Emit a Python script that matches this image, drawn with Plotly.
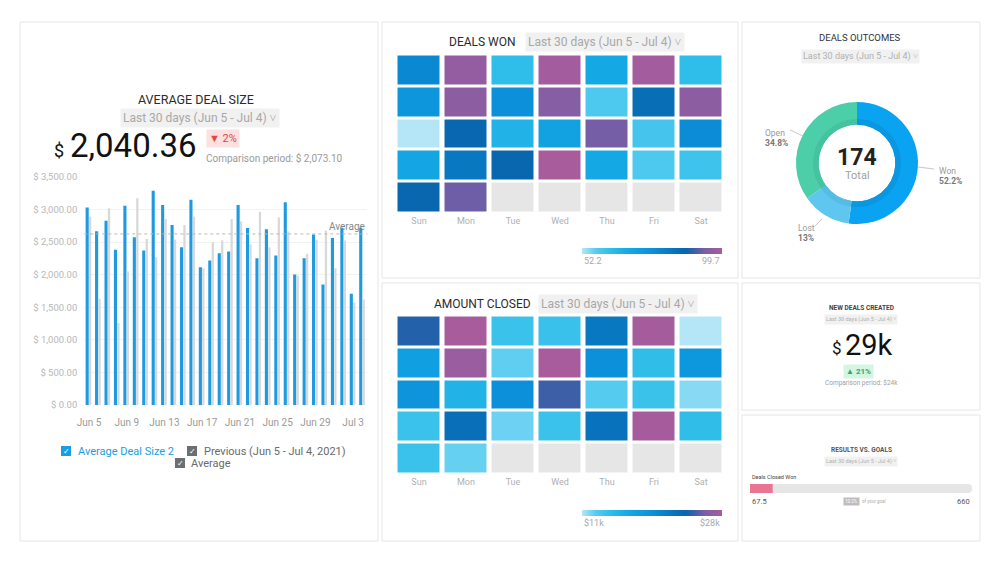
import plotly.graph_objects as go

W, H = 1000, 563
def px(x): return x / W
def py(y): return 1 - y / H

FONT = "Roboto"

# ---------------- data ----------------
days = ["Jun 5", "Jun 6", "Jun 7", "Jun 8", "Jun 9", "Jun 10", "Jun 11", "Jun 12", "Jun 13", "Jun 14",
        "Jun 15", "Jun 16", "Jun 17", "Jun 18", "Jun 19", "Jun 20", "Jun 21", "Jun 22", "Jun 23", "Jun 24",
        "Jun 25", "Jun 26", "Jun 27", "Jun 28", "Jun 29", "Jun 30", "Jul 1", "Jul 2", "Jul 3", "Jul 4"]
day_ticks = ["Jun 5", "Jun 9", "Jun 13", "Jun 17", "Jun 21", "Jun 25", "Jun 29", "Jul 3"]
avg_deal_size = [3030, 2667, 2830, 2382, 3060, 2575, 2370, 3290, 3070, 2765,
                 2422, 3152, 2116, 2218, 2330, 2356, 3070, 2718, 2254, 2698,
                 2295, 3111, 2004, 2254, 2616, 1851, 2565, 2720, 1709, 2720]
previous = [2892, 1632, 3019, 1260, 2050, 3172, 2550, 2270, 2856, 2540,
            2765, 2892, 2100, 2500, 2525, 2856, 2820, 2463, 2968, 2422,
            2881, 2662, 1989, 2321, 2535, 2677, 2101, 2525, 1575, 1620]
average_value = 2626
y_ticks = [0, 500, 1000, 1500, 2000, 2500, 3000, 3500]
y_tick_text = ["$ 0.00", "$ 500.00", "$ 1,000.00", "$ 1,500.00", "$ 2,000.00",
               "$ 2,500.00", "$ 3,000.00", "$ 3,500.00"]

weekdays = ["Sun", "Mon", "Tue", "Wed", "Thu", "Fri", "Sat"]
deals_won = [
    [78, 97, 62, 99, 68, 99, 62],
    [74, 96, 76, 95, 58, 85, 96],
    [52.2, 87, 65, 70, 93.5, 59, 77],
    [69, 82, 87, 99.7, 68, 58, 60],
    [87, 93, None, None, None, None, None],
]
amount_closed = [
    [24.1, 28, 13.9, 14, 21.7, 27.8, 11],
    [17.8, 27.3, 12.5, 28, 19.5, 14.4, 18.7],
    [19, 15.6, 19.5, 24.6, 12.7, 13.9, 11.8],
    [13.9, 22.6, 12.3, 13.9, 22.2, 27.9, 14.4],
    [13.9, 12.4, None, None, None, None, None],
]
won_range = [52.2, 99.7]
amount_range = [11, 28]

outcome_labels = ["Won", "Lost", "Open"]
outcome_pct = [52.2, 13, 34.8]
outcome_total = 174

goal_result = 67.5
goal_target = 660

heat_scale = [
    [0.0, "#b5e6f8"], [0.1, "#55cbf0"], [0.2, "#30bee9"], [0.33, "#14a9e5"],
    [0.5, "#0b90d9"], [0.65, "#0874bd"], [0.74, "#0866ae"], [0.8, "#3d5fa8"],
    [0.88, "#7e5ea6"], [1.0, "#a85c9c"],
]

fig = go.Figure()

# ---------------- panels ----------------
panels = [(20, 22, 378, 541), (382, 22, 738, 278), (382, 283, 738, 541),
          (742, 22, 980, 278), (742, 283, 980, 410), (742, 415, 980, 541)]
shapes = []
for x0, y0, x1, y1 in panels:
    shapes.append(dict(type="rect", xref="paper", yref="paper", x0=px(x0), x1=px(x1),
                       y0=py(y1), y1=py(y0), line=dict(color="#e6e6e6", width=1),
                       fillcolor="white", layer="below"))

# ---------------- average deal size bars ----------------
fig.add_trace(go.Bar(x=days, y=avg_deal_size, name="Average Deal Size 2",
                     marker=dict(color="#1e9be0", line=dict(width=0)),
                     width=0.33, offset=-0.36, xaxis="x", yaxis="y", hoverinfo="skip"))
fig.add_trace(go.Bar(x=days, y=previous, name="Previous (Jun 5 - Jul 4, 2021)",
                     marker=dict(color="#d8d8d8", line=dict(width=0)),
                     width=0.24, offset=0.0, xaxis="x", yaxis="y", hoverinfo="skip"))
shapes.append(dict(type="line", xref="x domain", yref="y", x0=0, x1=1,
                   y0=average_value, y1=average_value,
                   line=dict(color="#b8b8b8", width=1, dash="dot")))

# ---------------- heatmaps ----------------
def grey_mask(z):
    return [[1 if v is None else None for v in row] for row in z]

for z, xa, ya in [(deals_won, "x2", "y2"), (amount_closed, "x3", "y3")]:
    fig.add_trace(go.Heatmap(z=grey_mask(z), x=weekdays, xaxis=xa, yaxis=ya,
                             colorscale=[[0, "#e6e6e6"], [1, "#e6e6e6"]], showscale=False,
                             xgap=5, ygap=3, hoverinfo="skip"))

def cbar(ytop):
    return dict(orientation="h", x=px(652), xanchor="center", y=py(ytop), yanchor="top",
                len=0.14, lenmode="fraction", thickness=6, outlinewidth=0, xpad=0, ypad=0,
                showticklabels=False, ticks="")

fig.add_trace(go.Heatmap(z=deals_won, x=weekdays, xaxis="x2", yaxis="y2",
                         zmin=won_range[0], zmax=won_range[1], colorscale=heat_scale,
                         xgap=5, ygap=3, hoverinfo="skip", colorbar=cbar(248)))
fig.add_trace(go.Heatmap(z=amount_closed, x=weekdays, xaxis="x3", yaxis="y3",
                         zmin=amount_range[0], zmax=amount_range[1], colorscale=heat_scale,
                         xgap=5, ygap=3, hoverinfo="skip", colorbar=cbar(510)))

# ---------------- donut ----------------
cx, cy, r = 857, 163, 61
fig.add_trace(go.Pie(labels=outcome_labels, values=outcome_pct, sort=False, direction="clockwise",
                     rotation=0, hole=0.63, textinfo="none", hoverinfo="skip", showlegend=False,
                     marker=dict(colors=["#0aa3f2", "#5ec6ef", "#4ccfa9"], line=dict(width=0)),
                     domain=dict(x=[px(cx - r), px(cx + r)], y=[py(cy + r), py(cy - r)])))
r2 = 44
fig.add_trace(go.Pie(labels=outcome_labels, values=outcome_pct, sort=False, direction="clockwise",
                     rotation=0, hole=0.87, textinfo="none", hoverinfo="skip", showlegend=False,
                     marker=dict(colors=["#0997e2", "#56bce4", "#45c29f"], line=dict(width=0)),
                     domain=dict(x=[px(cx - r2), px(cx + r2)], y=[py(cy + r2), py(cy - r2)])))

# ---------------- progress bar ----------------
fig.add_trace(go.Bar(x=[goal_target], y=["goal"], orientation="h", xaxis="x4", yaxis="y4",
                     marker=dict(color="#e6e6e6", cornerradius=4, line=dict(width=0)),
                     width=1, hoverinfo="skip", showlegend=False))
fig.add_trace(go.Bar(x=[goal_result], y=["goal"], orientation="h", xaxis="x4", yaxis="y4",
                     marker=dict(color="#ea7592", cornerradius=4, line=dict(width=0)),
                     width=1, hoverinfo="skip", showlegend=False))

# ---------------- annotations ----------------
ann = []
def T(x, y, text, size=10, color="#333", xanchor="center", yanchor="middle", bg=None, pad=1, **kw):
    d = dict(xref="paper", yref="paper", x=px(x), y=py(y), text=text, showarrow=False,
             font=dict(family=FONT, size=size, color=color), xanchor=xanchor, yanchor=yanchor)
    if bg:
        d["bgcolor"] = bg
        d["borderpad"] = pad
    d.update(kw)
    ann.append(d)

DD = "Last 30 days (Jun 5 - Jul 4) ˅"

# left panel header
T(196, 99, "AVERAGE DEAL SIZE", 12.5, "#2b2b2b")
T(200, 118, DD, 12, "#a8a8a8", bg="#f1f1f1", pad=2)
T(59, 150, "$", 18, "#111")
T(68, 146, "2,040.36", 33, "#111", xanchor="left")
T(223, 139, "▼ 2%", 11, "#e04848", bg="#fde0e0", pad=2)
T(204, 158, "Comparison period: $ 2,073.10", 10, "#9a9a9a", xanchor="left")
ann.append(dict(xref="x domain", yref="y", x=1, y=average_value, text="Average", showarrow=False,
                xanchor="right", yanchor="bottom", font=dict(family=FONT, size=10, color="#888")))

# legend
def checkbox(x, y, color):
    shapes.append(dict(type="rect", xref="paper", yref="paper", x0=px(x - 5), x1=px(x + 5),
                       y0=py(y + 5), y1=py(y - 5), fillcolor=color, line=dict(width=0)))
    T(x, y, "✓", 8, "white")
checkbox(66, 451, "#1a9ee0")
T(76, 451, "Average Deal Size 2", 11, "#1a9ee0", xanchor="left")
checkbox(192, 451, "#6e6e6e")
T(202, 451, "Previous (Jun 5 - Jul 4, 2021)", 11, "#6a6a6a", xanchor="left")
checkbox(180, 463, "#6e6e6e")
T(189, 463, "Average", 11, "#6a6a6a", xanchor="left")

# deals won / amount closed headers
T(482, 42, "DEALS WON", 12, "#2b2b2b")
T(605, 42, DD, 12, "#a8a8a8", bg="#f1f1f1", pad=2)
T(582, 261, f"{won_range[0]}", 9, "#a8a8a8", xanchor="left")
T(722, 261, f"{won_range[1]}", 9, "#a8a8a8", xanchor="right")
T(482, 304, "AMOUNT CLOSED", 12, "#2b2b2b")
T(618, 304, DD, 12, "#a8a8a8", bg="#f1f1f1", pad=2)
T(582, 523, f"${amount_range[0]}k", 9, "#a8a8a8", xanchor="left")
T(722, 523, f"${amount_range[1]}k", 9, "#a8a8a8", xanchor="right")

# deals outcomes
T(860, 38, "DEALS OUTCOMES", 9.5, "#333")
T(860, 56, DD, 9, "#b0b0b0", bg="#f1f1f1", pad=1)
T(857, 157, f"<b>{outcome_total}</b>", 23, "#222")
T(857, 176, "Total", 11, "#a0a0a0")
T(763, 133, "Open", 8.5, "#999", xanchor="left")
T(763, 143, f"<b>{outcome_pct[2]}%</b>", 8.5, "#777", xanchor="left")
T(937, 171, "Won", 8.5, "#999", xanchor="left")
T(937, 181, f"<b>{outcome_pct[0]}%</b>", 8.5, "#777", xanchor="left")
T(796, 228, "Lost", 8.5, "#999", xanchor="left")
T(796, 238, f"<b>{outcome_pct[1]:g}%</b>", 8.5, "#777", xanchor="left")
for x0, y0, x1, y1 in [(790, 130, 803, 136), (918, 167, 934, 169), (815, 226, 822, 219)]:
    shapes.append(dict(type="line", xref="paper", yref="paper", x0=px(x0), y0=py(y0),
                       x1=px(x1), y1=py(y1), line=dict(color="#c8c8c8", width=1)))

# new deals created
T(861, 308, "<b>NEW DEALS CREATED</b>", 6.5, "#444")
T(861, 319, DD, 5.5, "#b0b0b0", bg="#f1f1f1", pad=1)
T(837, 348, "$", 17, "#111")
T(843, 345, "29k", 29, "#111", xanchor="left")
T(858, 371, "<b>▲ 21%</b>", 8, "#34a86c", bg="#d3f5e2", pad=2)
T(861, 383, "Comparison period: $24k", 6.5, "#a0a0a0")

# results vs goals
T(861, 450, "<b>RESULTS VS. GOALS</b>", 6.5, "#555")
T(861, 461, DD, 5.5, "#b0b0b0", bg="#f1f1f1", pad=1)
T(750, 477, "Deals Closed Won", 5.5, "#444", xanchor="left")
T(750, 501, f"{goal_result}", 7.5, "#555", xanchor="left")
T(972, 501, f"{goal_target}", 7.5, "#555", xanchor="right")
T(851, 501, f"{goal_result / goal_target * 100:.1f}%", 4.5, "white", bg="#bdbdbd", pad=1)
T(860, 501, "of your goal", 4.5, "#aaa", xanchor="left")

axis_off = dict(showgrid=False, zeroline=False, showline=False, showticklabels=False, ticks="",
                automargin=False)
heat_x = dict(showgrid=False, zeroline=False, showline=False, ticks="", type="category",
              automargin=False, tickfont=dict(family=FONT, size=9, color="#b0b0b0"))

fig.update_layout(
    template="none",
    width=W, height=H, margin=dict(l=0, r=0, t=0, b=0, pad=0, autoexpand=False),
    paper_bgcolor="white", plot_bgcolor="rgba(0,0,0,0)",
    barmode="overlay", showlegend=False, font=dict(family=FONT),
    xaxis=dict(domain=[0.0843, 0.3673], type="category", range=[-0.5, 29.5],
               tickvals=day_ticks, ticktext=day_ticks, showgrid=False, zeroline=False,
               showline=False, ticks="", automargin=False, ticklabelstandoff=10,
               tickfont=dict(family=FONT, size=10, color="#9a9a9a")),
    yaxis=dict(domain=[py(405), py(177)], range=[0, 3500], tickvals=y_ticks, ticktext=y_tick_text,
               showgrid=True, gridcolor="#f2f2f2", zeroline=False, automargin=False,
               showline=False, ticks="", ticklabelstandoff=6,
               tickfont=dict(family=FONT, size=9.5, color="#b8b8b8")),
    xaxis2=dict(domain=[px(395.5), px(724.5)], anchor="y2", **heat_x),
    yaxis2=dict(domain=[py(213.5), py(54.5)], anchor="x2", autorange="reversed", **axis_off),
    xaxis3=dict(domain=[px(395.5), px(724.5)], anchor="y3", **heat_x),
    yaxis3=dict(domain=[py(474.5), py(315.5)], anchor="x3", autorange="reversed", **axis_off),
    xaxis4=dict(domain=[px(750), px(972)], anchor="y4", range=[0, goal_target], **axis_off),
    yaxis4=dict(domain=[py(493), py(484)], anchor="x4", range=[-0.5, 0.5], **axis_off),
    shapes=shapes, annotations=ann,
)

fig.write_html("out.html", config={"displayModeBar": False},
               post_script="document.body.style.margin='0';document.body.style.overflow='hidden';")
